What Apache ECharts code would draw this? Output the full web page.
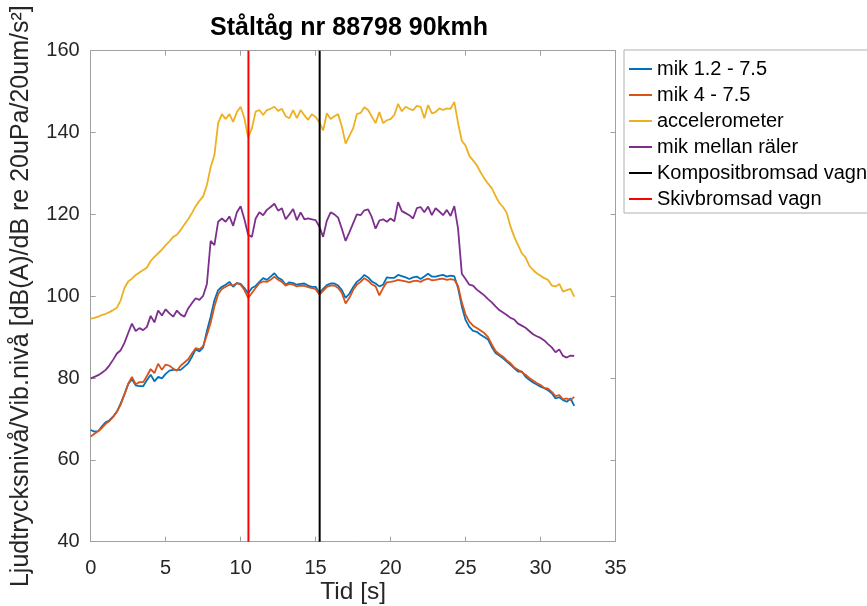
<!DOCTYPE html>
<html>
<head>
<meta charset="utf-8">
<script src="https://cdn.jsdelivr.net/npm/echarts/dist/echarts.min.js"></script>
<style>html,body{margin:0;padding:0;background:#fff;}#c{width:867px;height:606px;}</style>
</head>
<body>
<div id="c"></div>
<script>
// time grid [s]
const time = [
0,0.25,0.5,0.75, 1,1.25,1.5,1.75, 2,2.25,2.5,2.75, 3,3.25,3.5,3.75,
4,4.25,4.5,4.75, 5,5.25,5.5,5.75, 6,6.25,6.5,6.75, 7,7.25,7.5,7.75,
8,8.25,8.5,8.75, 9,9.25,9.5,9.75, 10,10.25,10.5,10.75, 11,11.25,11.5,11.75,
12,12.25,12.5,12.75, 13,13.25,13.5,13.75, 14,14.25,14.5,14.75, 15,15.25,15.5,15.75,
16,16.25,16.5,16.75, 17,17.25,17.5,17.75, 18,18.25,18.5,18.75, 19,19.25,19.5,19.75,
20,20.25,20.5,20.75, 21,21.25,21.5,21.75, 22,22.25,22.5,22.75, 23,23.25,23.5,23.75,
24,24.25,24.5,24.75, 25,25.25,25.5,25.75, 26,26.25,26.5,26.75, 27,27.25,27.5,27.75,
28,28.25,28.5,28.75, 29,29.25,29.5,29.75, 30,30.25,30.5,30.75, 31,31.25,31.5,31.75,
32,32.25];

const mik12 = [
67.3,66.9,67.0,68.2, 69.2,69.7,70.6,71.8, 73.8,76.0,78.5,79.7, 78.2,78.0,78.0,79.5,
80.8,79.2,80.3,79.9, 81.0,81.8,82.0,82.0, 82.0,82.8,83.6,85.2, 87.0,86.5,87.5,91.5,
95.0,99.0,101.5,102.3, 102.8,103.5,102.3,103.2, 103.0,102.0,100.7,102.0, 102.5,103.5,104.4,104.0,
104.8,105.6,104.5,104.0, 102.8,103.4,103.2,102.8, 103.0,103.1,102.6,102.3, 102.3,100.8,101.8,102.7,
103.1,103.1,102.6,101.5, 99.6,100.6,102.2,103.5, 104.2,105.2,104.6,103.6, 103.1,102.4,102.8,104.6,
104.5,104.5,105.2,104.9, 104.6,104.2,104.6,104.8, 104.2,104.8,105.5,104.8, 104.8,105.0,105.2,104.8,
105.0,104.9,102.0,97.5, 94.2,92.5,91.5,91.3, 90.6,90.0,89.4,87.6, 86.1,85.5,84.8,84.0,
83.2,82.4,81.6,81.6, 80.3,79.6,78.9,78.4, 77.9,77.5,77.0,76.3, 75.0,75.3,74.6,74.2,
75.0,73.2];

const mik4 = [
65.7,66.4,67.0,67.8, 68.8,69.5,70.5,71.8, 73.5,76.0,78.6,80.3, 78.5,79.0,79.0,80.5,
82.2,81.2,83.5,82.0, 83.3,83.0,82.3,81.8, 83.0,83.8,84.6,86.0, 87.3,87.0,87.8,90.5,
93.5,97.5,100.5,101.8, 102.3,102.8,102.6,103.2, 102.8,101.5,99.6,100.8, 102.0,103.2,103.6,103.5,
104.0,104.8,104.0,103.5, 102.6,103.0,102.8,102.4, 102.6,102.5,102.2,102.0, 101.7,100.4,101.3,102.3,
102.6,102.6,102.0,100.8, 98.2,99.6,101.5,102.8, 103.5,104.4,103.8,102.9, 102.4,100.2,102.0,103.4,
103.5,103.7,104.0,103.8, 103.6,103.4,103.7,103.8, 103.5,104.0,104.3,103.9, 104.0,104.2,104.3,104.0,
104.2,104.0,102.5,98.5, 95.5,93.8,92.8,92.2, 91.6,91.0,90.0,88.2, 86.6,85.8,85.2,84.3,
83.6,82.6,82.0,81.4, 80.8,80.0,79.4,78.8, 78.3,77.6,77.4,76.6, 75.6,75.8,74.8,75.0,
74.6,75.4];

const accel = [
94.5,94.7,95.0,95.4, 95.7,96.1,96.6,97.2, 99.0,102.0,103.6,104.3, 105.2,105.8,106.4,107.0,
108.6,109.6,110.5,111.4, 112.5,113.4,114.5,115.0, 116.2,117.5,118.8,120.3, 122.0,123.3,124.4,127.2,
131.5,134.5,142.3,144.5, 143.3,144.5,142.6,145.0, 146.3,143.5,138.8,141.0, 145.1,145.5,144.3,145.5,
145.8,146.3,145.3,145.8, 144.0,143.5,145.5,143.5, 145.5,144.2,143.1,144.5, 143.8,142.5,140.5,144.7,
143.3,144.0,144.5,141.5, 137.3,139.2,141.0,144.5, 144.8,146.2,145.5,143.9, 142.3,145.0,142.3,143.0,
143.3,144.3,147.0,145.2, 146.3,145.8,145.5,146.5, 146.3,143.5,146.7,144.7, 145.0,145.9,145.5,145.9,
145.8,147.5,142.3,138.0, 136.8,134.3,133.2,132.0, 130.3,128.8,127.5,126.4, 124.5,122.8,121.8,120.3,
117.0,114.5,112.5,110.5, 109.5,107.5,106.4,105.6, 105.0,104.4,104.0,102.6, 102.4,103.0,101.1,101.5,
101.8,99.9];

const mikRaler = [
79.9,80.3,80.7,81.3, 82.0,83.1,84.5,86.0, 86.8,88.6,91.0,93.3, 91.5,92.2,91.7,92.5,
95.2,93.6,96.5,95.3, 96.8,95.8,95.0,96.5, 95.5,95.0,97.0,98.3, 99.5,99.1,100.1,103.0,
113.5,112.5,118.2,119.0, 118.2,119.5,117.2,120.5, 122.0,118.8,115.0,114.5, 119.0,120.5,119.8,121.1,
121.8,122.6,120.9,121.5, 118.8,120.0,121.3,118.6, 120.5,118.8,119.0,118.8, 118.6,117.0,114.5,118.5,
120.5,120.0,119.2,116.5, 113.5,115.6,117.8,120.0, 119.8,121.0,121.2,119.3, 116.5,118.5,118.8,118.2,
119.0,118.3,123.0,120.8, 120.3,119.8,119.0,121.5, 121.8,120.5,121.9,119.8, 121.5,120.7,119.8,121.1,
119.6,122.0,116.5,105.5, 104.2,102.8,102.6,101.6, 100.9,100.2,99.3,98.5, 97.5,96.6,96.0,95.4,
94.7,94.3,93.3,92.8, 92.3,91.5,90.7,90.2, 89.8,89.2,88.3,87.5, 86.3,87.0,85.4,85.0,
85.5,85.4];

// marker lines (time positions)
const kompositTime = 15.27;
const skivTime = 10.52;
const yRange = [40, 160];
const xTicks = {min: 0, max: 35, interval: 5};

const pair = (arr) => time.map((t, i) => [t, arr[i]]);
const vline = (t) => [[t, yRange[0]], [t, yRange[1]]];

const axisGrey = '#a0a0a0';
const txt = '#262626';
const font = 'Liberation Sans, Arial, Helvetica, sans-serif';

const chart = echarts.init(document.getElementById('c'), null, {renderer: 'canvas'});
const lineSeries = (name, data, color, w) => ({
  name, type: 'line', data, symbol: 'none', showSymbol: false,
  lineStyle: {color, width: w}, itemStyle: {color}, z: 2, animation: false
});

chart.setOption({
  backgroundColor: '#ffffff',
  animation: false,
  title: {
    text: 'Ståltåg nr 88798 90kmh',
    left: 344, top: 11, textAlign: 'center',
    textStyle: {fontFamily: font, fontSize: 25, fontWeight: 'bold', color: '#000'}
  },
  legend: {
    orient: 'vertical', left: 624, top: 50,
    icon: 'rect', itemWidth: 23, itemHeight: 2, itemGap: 6,
    padding: [9, 40, 4, 5],
    borderColor: '#b0b0b0', borderWidth: 1, backgroundColor: '#fff',
    textStyle: {fontFamily: font, fontSize: 20, lineHeight: 20, color: '#000'},
    data: ['mik 1.2 - 7.5', 'mik 4 - 7.5', 'accelerometer', 'mik mellan räler', 'Kompositbromsad vagn', 'Skivbromsad vagn']
  },
  grid: {left: 90.7, right: 251.5, top: 50.7, bottom: 64.3, containLabel: false, outerBoundsMode: 'none'},
  xAxis: [{
    type: 'value', min: xTicks.min, max: xTicks.max, interval: xTicks.interval,
    name: 'Tid [s]', nameLocation: 'middle', nameGap: 38, nameMoveOverlap: false,
    nameTextStyle: {fontFamily: font, fontSize: 24.5, color: txt, verticalAlign: 'top'},
    axisLine: {show: true, onZero: false, lineStyle: {color: axisGrey, width: 1}},
    axisTick: {show: true, inside: true, length: 5, lineStyle: {color: axisGrey}},
    axisLabel: {fontFamily: font, fontSize: 20, color: txt, margin: 17},
    splitLine: {show: false}
  }, {
    type: 'value', position: 'top', min: xTicks.min, max: xTicks.max, interval: xTicks.interval,
    axisLine: {show: true, onZero: false, lineStyle: {color: axisGrey, width: 1}},
    axisTick: {show: true, inside: true, length: 5, lineStyle: {color: axisGrey}},
    axisLabel: {show: false}, splitLine: {show: false}
  }],
  yAxis: [{
    type: 'value', min: yRange[0], max: yRange[1], interval: 20,
    name: 'Ljudtrycksnivå/Vib.nivå [dB(A)/dB re 20uPa/20um/s²]',
    nameLocation: 'middle', nameGap: 57, nameRotate: 90, nameMoveOverlap: false,
    nameTextStyle: {fontFamily: font, fontSize: 25, color: txt},
    axisLine: {show: true, onZero: false, lineStyle: {color: axisGrey, width: 1}},
    axisTick: {show: true, inside: true, length: 5, lineStyle: {color: axisGrey}},
    axisLabel: {fontFamily: font, fontSize: 20, color: txt, margin: 11},
    splitLine: {show: false}
  }, {
    type: 'value', position: 'right', min: yRange[0], max: yRange[1], interval: 20,
    axisLine: {show: true, onZero: false, lineStyle: {color: axisGrey, width: 1}},
    axisTick: {show: true, inside: true, length: 5, lineStyle: {color: axisGrey}},
    axisLabel: {show: false}, splitLine: {show: false}
  }],
  series: [
    lineSeries('mik 1.2 - 7.5', pair(mik12), '#0072BD', 1.8),
    lineSeries('mik 4 - 7.5', pair(mik4), '#D95319', 1.8),
    lineSeries('accelerometer', pair(accel), '#EDB120', 1.8),
    lineSeries('mik mellan räler', pair(mikRaler), '#7E2F8E', 1.8),
    lineSeries('Kompositbromsad vagn', vline(kompositTime), '#000000', 2),
    lineSeries('Skivbromsad vagn', vline(skivTime), '#FF0000', 2)
  ]
});
</script>
</body>
</html>
